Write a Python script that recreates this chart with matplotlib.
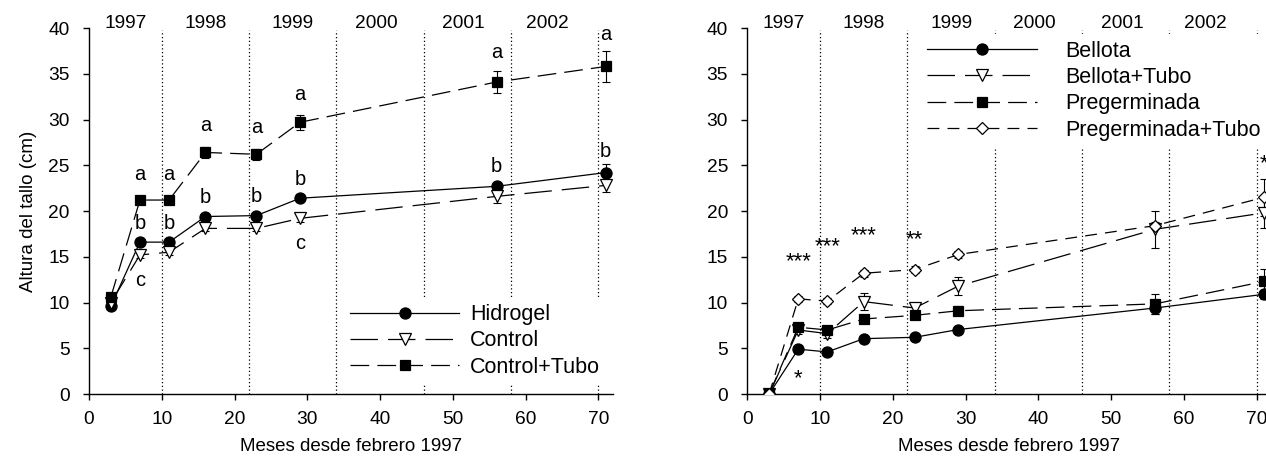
import numpy as np
import matplotlib
matplotlib.use("Agg")
import matplotlib.pyplot as plt

plt.rcParams['font.family'] = ['Liberation Sans', 'DejaVu Sans']

months = [3, 7, 11, 16, 23, 29, 56, 71]
year_lines = [10, 22, 34, 46, 58, 70]
year_labels = ['1997', '1998', '1999', '2000', '2001', '2002']
year_label_x = [5, 16, 28, 39.5, 51.5, 63]

# left panel
hidrogel = [9.6, 16.6, 16.6, 19.4, 19.5, 21.4, 22.7, 24.2]
hidrogel_err = [0.2, 0.3, 0.3, 0.3, 0.3, 0.3, 0.5, 0.9]
control = [10.0, 15.2, 15.5, 18.1, 18.1, 19.2, 21.6, 22.8]
control_err = [0.2, 0.3, 0.3, 0.3, 0.3, 0.4, 0.7, 0.7]
tubo = [10.6, 21.2, 21.2, 26.4, 26.2, 29.7, 34.1, 35.8]
tubo_err = [0.2, 0.3, 0.3, 0.6, 0.6, 0.8, 1.2, 1.7]
hidrogel_letters = ['', 'b', 'b', 'b', 'b', 'b', 'b', 'b']
control_letters = ['', 'c', '', '', '', 'c', '', '']
tubo_letters = ['', 'a', 'a', 'a', 'a', 'a', 'a', 'a']

# right panel
bellota = [0, 4.9, 4.6, 6.05, 6.2, 7.05, 9.4, 10.9]
bellota_err = [0.1, 0.3, 0.3, 0.3, 0.3, 0.3, 0.6, 0.5]
bellota_tubo = [0, 7.0, 6.6, 10.1, 9.4, 11.8, 18.0, 19.8]
bellota_tubo_err = [0.1, 0.4, 0.5, 0.9, 0.6, 1.0, 2.0, 1.7]
preg = [0, 7.3, 7.0, 8.2, 8.6, 9.1, 9.85, 12.3]
preg_err = [0.1, 0.3, 0.3, 0.3, 0.3, 0.5, 1.1, 1.4]
preg_tubo = [0, 10.4, 10.15, 13.2, 13.6, 15.25, 18.4, 21.5]
preg_tubo_err = [0.1, 0.3, 0.3, 0.4, 0.4, 0.4, 0.4, 2.0]
stars = ['', '***', '***', '***', '**', '', '', '*']
stars_height = [None, 15.4, 17.0, 18.2, 17.8, None, None, 26.1]
stars_low = ['', '*', '', '', '', '', '', '']

fs = 13.8
leg_fs = 15.5
lw = 0.9
long_dash = (22, 8)
mid_dash = (15, 6.5)
short_dash = (9.5, 6.5)

fig = plt.figure(figsize=(12.66, 4.58), dpi=100)
axl = fig.add_axes([0.0703, 0.1397, 0.4139, 0.7991])
axr = fig.add_axes([0.5903, 0.1397, 0.4139, 0.7991])


def series(ax, y, err, marker, ms, face, dashes, label):
    ax.errorbar(months, y, yerr=err, fmt='none', ecolor='black',
                elinewidth=0.8, capsize=2.8, capthick=0.8, zorder=3)
    line, = ax.plot(months, y, color='black', lw=lw, marker=marker, ms=ms,
                    mfc=face, mec='black', mew=0.9, label=label, zorder=4)
    if dashes is not None:
        line.set_dashes(dashes)
    return line


for ax in (axl, axr):
    ax.set_xlim(0, 72)
    ax.set_ylim(0, 40)
    ax.set_xticks(range(0, 71, 10))
    ax.set_yticks(range(0, 41, 5))
    ax.spines['top'].set_visible(False)
    ax.spines['right'].set_visible(False)
    ax.spines['left'].set_linewidth(1)
    ax.spines['bottom'].set_linewidth(1)
    ax.tick_params(direction='out', length=4.5, width=1, labelsize=fs)
    ax.tick_params(axis='y', pad=9.5)
    ax.tick_params(axis='x', pad=8)
    for xv in year_lines:
        ax.plot([xv, xv], [0, 39.8], color='black', lw=0.9,
                ls=(0, (1, 2)), zorder=1)
    for xv, lab in zip(year_label_x, year_labels):
        ax.text(xv, 39.95, lab, ha='center', va='baseline', fontsize=fs,
                clip_on=False)
    ax.set_xlabel('Meses desde febrero 1997', fontsize=13.5, labelpad=7)

axl.set_ylabel('Altura del tallo (cm)', fontsize=13.5, labelpad=8)

# left panel
series(axl, hidrogel, hidrogel_err, 'o', 8, 'black', None, 'Hidrogel')
series(axl, control, control_err, 'v', 8, 'white', long_dash, 'Control')
series(axl, tubo, tubo_err, 's', 7, 'black', mid_dash, 'Control+Tubo')

for x, y, e, t in zip(months, tubo, tubo_err, tubo_letters):
    if t:
        axl.text(x, y + 2.6 + 0.5 * e, t, ha='center', va='center', fontsize=14.5)
for x, y, e, t in zip(months, hidrogel, hidrogel_err, hidrogel_letters):
    if t:
        axl.text(x, y + 1.9 + 0.5 * e, t, ha='center', va='center', fontsize=14.5)
for x, y, e, t in zip(months, control, control_err, control_letters):
    if t:
        axl.text(x, y - 2.8, t, ha='center', va='center', fontsize=14.5)

legl = axl.legend(loc='center left', bbox_to_anchor=(0.483, 0.145),
                  fontsize=leg_fs, handlelength=5.1, handletextpad=0.5,
                  labelspacing=0.25, borderpad=0.35, borderaxespad=0,
                  frameon=True, fancybox=False, framealpha=1,
                  facecolor='white', edgecolor='none')
legl.set_zorder(10)

# right panel
series(axr, bellota, bellota_err, 'o', 8, 'black', None, 'Bellota')
series(axr, bellota_tubo, bellota_tubo_err, 'v', 8, 'white', long_dash, 'Bellota+Tubo')
series(axr, preg, preg_err, 's', 7, 'black', mid_dash, 'Pregerminada')
series(axr, preg_tubo, preg_tubo_err, 'D', 6.5, 'white', short_dash, 'Pregerminada+Tubo')

for x, s, h in zip(months, stars, stars_height):
    if s:
        axr.text(x, h - 0.9, s, ha='center', va='center', fontsize=16)
for x, y, s in zip(months, bellota, stars_low):
    if s:
        axr.text(x, y - 3.2, s, ha='center', va='center', fontsize=16)

legr = axr.legend(loc='center left', bbox_to_anchor=(0.331, 0.829),
                  fontsize=leg_fs, handlelength=5.1, handletextpad=1.3,
                  labelspacing=0.25, borderpad=0.3, borderaxespad=0,
                  frameon=True, fancybox=False, framealpha=1,
                  facecolor='white', edgecolor='none')
legr.set_zorder(10)

fig.savefig('out.png', dpi=100)
